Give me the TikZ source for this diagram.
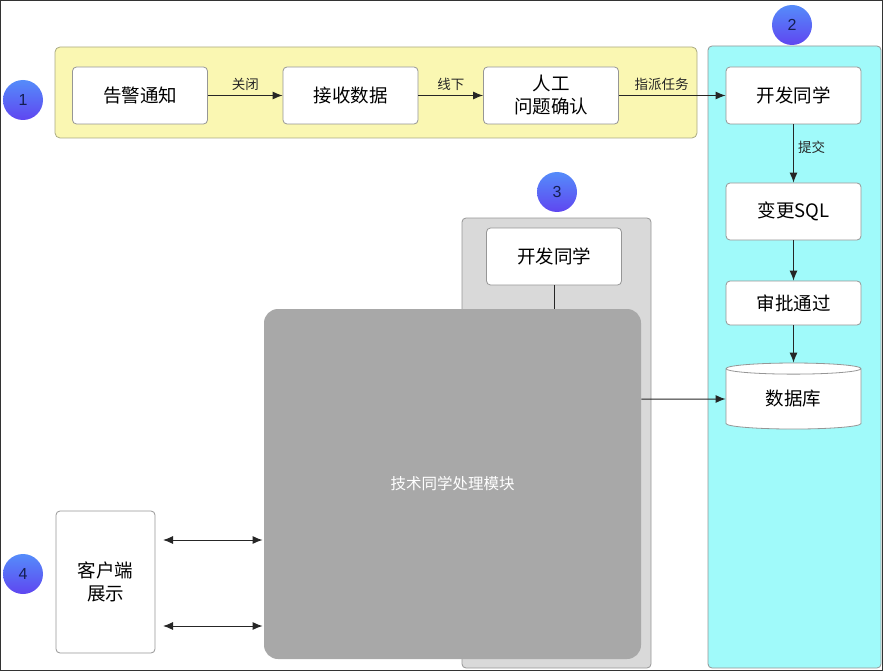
\documentclass[tikz,border=0pt]{standalone}
\usepackage{fontspec}
\setmainfont{Liberation Sans}
\newfontfamily\cjk{Noto Sans CJK SC}
\usepackage{tikz}
\usetikzlibrary{arrows.meta,shapes.geometric}

\definecolor{laneyellow}{RGB}{250,247,178}
\definecolor{lanecyan}{RGB}{160,250,250}
\definecolor{lanegray}{RGB}{217,217,217}
\definecolor{blockgray}{RGB}{168,168,168}
\definecolor{boxgray}{RGB}{150,150,150}
\definecolor{numtop}{RGB}{85,140,250}
\definecolor{numbot}{RGB}{95,70,240}

\begin{document}
\begin{tikzpicture}[x=1pt,y=-1pt,->,>={Latex[length=10pt,width=8pt]},auto,line width=0.8pt]
    \tikzstyle{box}=[draw=boxgray,fill=white,rounded corners=4pt,minimum width=135pt,minimum height=57pt,inner sep=0pt,align=center,font=\cjk\fontsize{18.5}{23}\selectfont]
    \tikzstyle{db}=[cylinder,shape border rotate=90,aspect=0.2,draw=boxgray,fill=white,minimum width=135pt,minimum height=66pt,inner sep=0pt,font=\cjk\fontsize{18.5}{23}\selectfont]
    \tikzstyle{num}=[circle,minimum size=40pt,inner sep=0pt,top color=numtop,bottom color=numbot,text={rgb,255:red,20;green,30;blue,80},font=\fontsize{16}{16}\selectfont]
    \tikzstyle{lbl}=[font=\cjk\fontsize{13.5}{15}\selectfont,inner sep=4pt]
    \tikzstyle{every edge}=[draw,line width=1pt,black!85]
    \useasboundingbox (0,0) rectangle (883,671);
    \draw[-,black!80,line width=1.2pt] (0.6,0.6) rectangle (882.4,670.4);
    % lanes
    \draw[-,draw={rgb,255:red,170;green,170;blue,130},fill=laneyellow,rounded corners=5pt] (55,47) rectangle (697,138);
    \draw[-,draw=boxgray,fill=lanecyan,rounded corners=4pt] (708,46) rectangle (881,668);
    \draw[-,draw=boxgray,fill=lanegray,rounded corners=4pt] (462,218) rectangle (651,668);
    % nodes
    \node[box]                                      (a1) at (140,95.5)   {告警通知};
    \node[box]                                      (a2) at (350.5,95.5) {接收数据};
    \node[box]                                      (a3) at (551,95.5)   {人工\\问题确认};
    \node[box]                                      (b1) at (793.5,95.5) {开发同学};
    \node[box]                                      (b2) at (793.5,211.5){变更SQL};
    \node[box,minimum height=44pt]                  (b3) at (793.5,303)  {审批通过};
    \node[db]                                       (b4) at (793.5,399)  {数据库};
    \node[box]                                      (c1) at (554,256.5)  {开发同学};
    \node[box,draw=none,fill=blockgray,rounded corners=14pt,minimum width=377pt,minimum height=350pt,text=white,font=\cjk\fontsize{15.5}{18}\selectfont]
                                                    (c2) at (452.5,484)  {技术同学处理模块};
    \node[box,minimum width=99pt,minimum height=142pt] (d1) at (105.5,582) {客户端\\展示};
    \node[num] (n1) at (23,100)  {1};
    \node[num] (n2) at (792,25)  {2};
    \node[num] (n3) at (557,192) {3};
    \node[num] (n4) at (23,574)  {4};
    \coordinate (p1) at (163,540);
    \coordinate (p2) at (163,626);
    % connectors
    \path (a1) edge node[lbl] {关闭} (a2)
          (a2) edge node[lbl] {线下} (a3)
          (a3) edge node[lbl,pos=0.4] {指派任务} (b1)
          (b1) edge node[lbl,pos=0.4] {提交} (b2)
          (b2) edge (b3)
          (b3) edge (b4)
          (c1) edge[-] (c1 |- c2.north)
          (c2.east |- b4) edge (b4)
          (p1) edge[<->] ([xshift=-1pt]p1 -| c2.west)
          (p2) edge[<->] ([xshift=-1pt]p2 -| c2.west);
\end{tikzpicture}
\end{document}
